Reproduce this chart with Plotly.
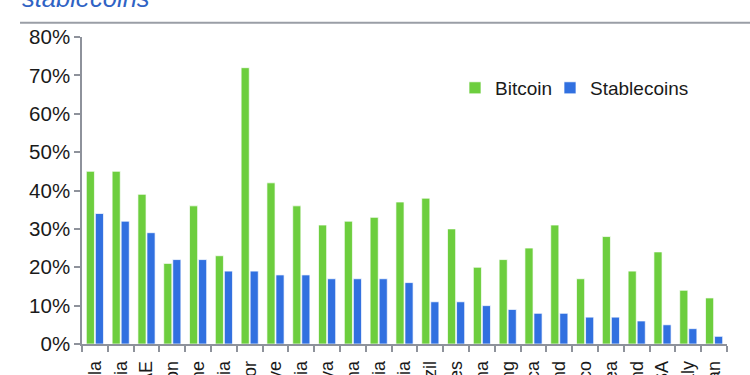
import plotly.graph_objects as go

countries = ["Venezuela", "Nigeria", "UAE", "Lebanon", "Ukraine", "Colombia", "El Salvador",
             "Türkiye", "India", "Kenya", "Argentina", "Indonesia", "Russia", "Brazil",
             "Philippines", "China", "Hong Kong", "South Africa", "Thailand", "Mexico",
             "South Korea", "Poland", "USA", "Italy", "Japan"]
bitcoin = [45, 45, 39, 21, 36, 23, 72, 42, 36, 31, 32, 33, 37, 38, 30, 20, 22, 25, 31, 17, 28, 19, 24, 14, 12]
stablecoins = [34, 32, 29, 22, 22, 19, 19, 18, 18, 17, 17, 17, 16, 11, 11, 10, 9, 8, 8, 7, 7, 6, 5, 4, 2]
y_ticks = [0, 10, 20, 30, 40, 50, 60, 70, 80]
y_tick_labels = ["0%", "10%", "20%", "30%", "40%", "50%", "60%", "70%", "80%"]

GREEN = "#6dce3e"
BLUE = "#3170e0"
AXIS = "#8e929b"
FONT = "Liberation Sans, Arial, sans-serif"

fig = go.Figure()
fig.add_trace(go.Bar(name="Bitcoin", x=countries, y=bitcoin, marker_color=GREEN,
                     marker_line=dict(color="rgba(255,255,255,0.7)", width=1),
                     legend="legend"))
fig.add_trace(go.Bar(name="Stablecoins", x=countries, y=stablecoins, marker_color=BLUE,
                     marker_line=dict(color="rgba(255,255,255,0.7)", width=1),
                     legend="legend2"))

legend_style = dict(orientation="h", y=0.834, xanchor="left", yanchor="middle",
                    font=dict(size=19, family=FONT, color="#1a1a1a"),
                    bgcolor="rgba(0,0,0,0)", itemclick=False, itemdoubleclick=False)

fig.update_layout(
    width=750, height=375,
    margin=dict(l=82, r=23, t=37, b=31, autoexpand=False),
    paper_bgcolor="white", plot_bgcolor="white",
    barmode="group", bargap=0.3, bargroupgap=0.1,
    font=dict(family=FONT, color="#1a1a1a"),
    showlegend=True,
    legend=dict(x=0.5783, **legend_style),
    legend2=dict(x=0.7256, **legend_style),
    xaxis=dict(showline=True, linecolor=AXIS, linewidth=1.5, ticks="outside",
               tickson="boundaries", ticklen=6, tickcolor=AXIS, tickwidth=1.5,
               tickangle=-90, ticklabelstandoff=8,
               tickfont=dict(size=18, family=FONT, color="#1a1a1a"),
               showgrid=False, automargin=False, zeroline=False),
    yaxis=dict(range=[0, 80], tickmode="array", tickvals=y_ticks, ticktext=y_tick_labels,
               showline=True, linecolor=AXIS, linewidth=1.5, ticks="outside", ticklen=6,
               tickcolor=AXIS, tickwidth=1.5, showgrid=False, zeroline=False,
               tickfont=dict(size=20.5, family=FONT, color="#1a1a1a"), automargin=False),
)

fig.add_annotation(text="<i>stablecoins</i>", xref="paper", yref="paper",
                   x=-0.0961, y=1.074, xanchor="left", yanchor="bottom", showarrow=False,
                   font=dict(size=25.5, family=FONT, color="#2f63c4"))
fig.add_shape(type="line", xref="paper", yref="paper", x0=-0.0961, x1=1.05,
              y0=1.0466, y1=1.0466, line=dict(color="#9a9ea6", width=2))

fig.write_html("out.html", config={"displayModeBar": False},
               post_script="document.body.style.margin='0px';")
